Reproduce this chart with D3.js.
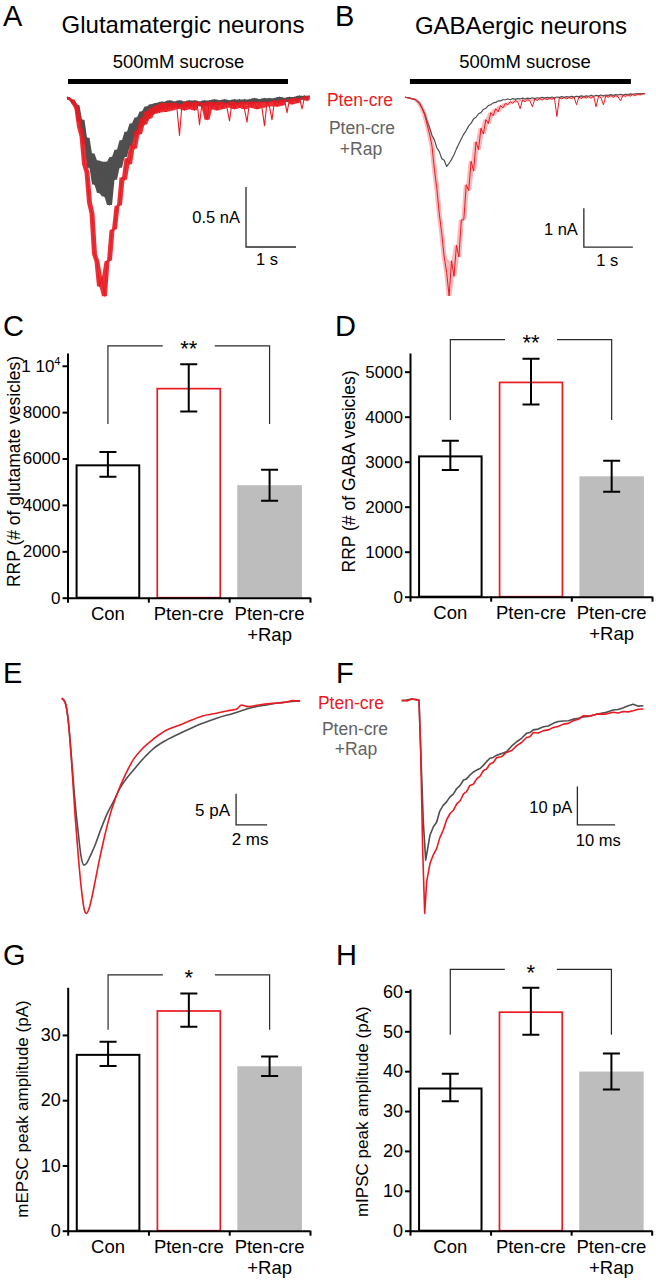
<!DOCTYPE html>
<html><head><meta charset="utf-8">
<script src="https://cdn.jsdelivr.net/npm/d3@7"></script>
<style>
html,body{margin:0;padding:0;background:#fff;}
svg{display:block;font-family:"Liberation Sans",Arial,Helvetica,sans-serif;}
</style></head><body>
<svg id="fig" width="656" height="1280"></svg>
<script>
// ---------------- DATA ----------------
const groups = ["Con", "Pten-cre", "Pten-cre +Rap"];
const groupLines = [["Con"], ["Pten-cre"], ["Pten-cre", "+Rap"]];

// C: RRP glutamate vesicles
const rrpGlutMean = [5750, 9050, 4850];
const rrpGlutSem = [530, 1020, 670];
const rrpGlutTicks = [0, 2000, 4000, 6000, 8000, 10000];
// D: RRP GABA vesicles
const rrpGabaMean = [3140, 4780, 2675];
const rrpGabaSem = [325, 510, 345];
const rrpGabaTicks = [0, 1000, 2000, 3000, 4000, 5000];
// G: mEPSC amplitude
const mepscMean = [27.1, 33.8, 25.2];
const mepscSem = [1.85, 2.55, 1.5];
const mepscTicks = [0, 10, 20, 30];
// H: mIPSC amplitude
const mipscMean = [35.9, 55.0, 39.9];
const mipscSem = [3.45, 5.9, 4.5];
const mipscTicks = [0, 10, 20, 30, 40, 50, 60];

// A: sucrose responses, glutamatergic (nA, sampled every 0.05 s)
const dtA = 0.05;
const redA = [0.00,-0.02,-0.02,-0.06,-0.10,-0.25,-0.33,-0.56,-0.63,-0.88,
 -0.97,-1.31,-1.37,-1.58,-1.50,-1.66,-1.37,-1.36,-1.11,-1.10,
 -0.91,-0.90,-0.67,-0.69,-0.51,-0.56,-0.40,-0.43,-0.28,-0.31,
 -0.18,-0.23,-0.12,-0.18,-0.09,-0.14,-0.07,-0.13,-0.05,-0.12,
 -0.12,-0.05,-0.11,-0.05,-0.10,-0.32,-0.06,-0.11,-0.04,-0.10,
 -0.05,-0.11,-0.04,-0.23,-0.05,-0.10,-0.19,-0.04,-0.10,-0.05,
 -0.11,-0.04,-0.10,-0.05,-0.09,-0.20,-0.04,-0.10,-0.05,-0.09,
 -0.04,-0.10,-0.21,-0.04,-0.09,-0.04,-0.10,-0.04,-0.09,-0.24,
 -0.04,-0.08,-0.19,-0.03,-0.08,-0.03,-0.07,-0.02,-0.13,-0.02,
 -0.06,-0.01,-0.05,-0.01,-0.10,0.00,-0.03,0.01];
const grayA = [0.00,-0.02,-0.03,-0.06,-0.07,-0.20,-0.19,-0.39,-0.34,-0.59,
 -0.47,-0.73,-0.53,-0.80,-0.54,-0.83,-0.54,-0.90,-0.50,-0.69,
 -0.44,-0.59,-0.36,-0.50,-0.29,-0.41,-0.22,-0.33,-0.17,-0.26,
 -0.12,-0.20,-0.08,-0.15,-0.06,-0.13,-0.05,-0.11,-0.04,-0.10,
 -0.09,-0.03,-0.08,-0.04,-0.09,-0.03,-0.08,-0.04,-0.08,-0.03,
 -0.08,-0.03,-0.07,-0.04,-0.08,-0.03,-0.07,-0.03,-0.07,-0.02,
 -0.07,-0.03,-0.06,-0.02,-0.06,-0.03,-0.07,-0.02,-0.06,-0.02,
 -0.06,-0.02,-0.05,-0.02,-0.06,-0.01,-0.05,-0.02,-0.05,-0.01,
 -0.05,-0.01,-0.04,-0.01,-0.05,0.00,-0.04,-0.01,-0.04,0.00,
 -0.03,0.00,-0.03,0.01,-0.02,0.01,-0.02,0.01];
const sucroseA = [0.02, 4.42];

// B: sucrose responses, GABAergic (nA, every 0.05 s)
const dtB = 0.05;
const redB = [0.00,-0.02,-0.03,-0.06,-0.05,-0.10,-0.18,-0.30,-0.45,-0.70,
 -0.95,-1.25,-1.85,-2.35,-3.00,-3.50,-4.10,-4.50,-5.10,-4.20,
 -4.60,-3.80,-4.10,-3.15,-3.15,-2.25,-2.40,-1.65,-1.90,-1.15,
 -1.35,-0.80,-0.95,-0.58,-0.68,-0.40,-0.48,-0.30,-0.38,-0.22,
 -0.28,-0.16,-0.20,-0.12,-0.16,-0.09,-0.12,-0.30,-0.07,-0.12,
 -0.06,-0.10,-0.25,-0.05,-0.09,-0.04,-0.08,-0.03,-0.07,-0.03,
 -0.06,-0.02,-0.50,-0.02,-0.05,-0.01,-0.05,-0.01,-0.04,0.00,
 -0.20,0.00,-0.04,0.01,-0.03,0.01,-0.03,0.02,-0.25,0.02,
 -0.02,-0.20,0.03,-0.01,0.04,-0.01,0.04,0.00,-0.10,0.05,
 0.01,0.06,0.02,0.07,0.03,0.08,0.05,0.09,0.08];
const grayB = [0.00,-0.02,-0.02,-0.05,-0.06,-0.11,-0.16,-0.28,-0.42,-0.62,
 -0.78,-0.98,-1.10,-1.30,-1.40,-1.58,-1.62,-1.78,-1.70,-1.60,
 -1.48,-1.33,-1.20,-1.07,-0.95,-0.86,-0.74,-0.67,-0.56,-0.52,
 -0.43,-0.40,-0.32,-0.29,-0.22,-0.20,-0.15,-0.14,-0.10,-0.10,
 -0.07,-0.07,-0.05,-0.07,-0.04,-0.06,-0.04,-0.05,-0.03,-0.05,
 -0.03,-0.04,-0.02,-0.04,-0.02,-0.03,-0.01,-0.03,-0.01,-0.02,
 0.00,-0.02,0.00,-0.01,0.01,-0.01,0.01,0.00,0.02,0.00,
 0.02,0.01,0.03,0.01,0.03,0.02,0.04,0.02,0.04,0.03,
 0.05,0.03,0.05,0.04,0.06,0.04,0.06,0.05,0.07,0.05,
 0.07,0.06,0.08,0.07,0.08,0.08,0.09,0.08,0.09];
const sucroseB = [0.10, 4.61];

// E: averaged mEPSCs (ms, pA)
const eRedT = [0,0.22,0.43,0.65,0.86,1.08,1.29,1.46,1.59,1.74,1.93,2.15,2.41,2.69,3.12,3.55,4.09,4.62,5.27,5.92,6.78,7.63,8.39,9.14,9.79,10.65,11.3,11.6,12.0,12.5,13.0,13.7,14.3,14.95,15.38];
const eRedI = [0,-0.65,-3.76,-10.75,-18.8,-25.8,-31.2,-34.1,-34.7,-34.1,-32.3,-29.6,-26.3,-23.1,-18.8,-15.6,-12.4,-9.9,-7.96,-6.56,-5.1,-4.3,-3.5,-2.8,-2.5,-2.04,-1.72,-1.07,-1.34,-1.18,-0.97,-0.8,-0.7,-0.38,-0.43];
const eGrayT = [0,0.22,0.43,0.65,0.86,1.08,1.25,1.44,1.61,1.83,2.15,2.47,2.9,3.33,3.76,4.19,4.62,5.27,5.92,6.78,7.85,8.92,10.0,11.1,12.1,13.2,14.3,15.38];
const eGrayI = [0,-0.65,-3.76,-10.2,-16.7,-22.0,-25.5,-26.9,-26.6,-25.5,-23.7,-21.5,-18.8,-16.7,-14.5,-12.9,-11.6,-9.7,-8.1,-6.7,-5.4,-4.2,-3.2,-2.4,-1.6,-1.07,-0.65,-0.43];

// F: averaged mIPSCs (ms, pA)
const fRedT = [0,1.33,2.66,4.15,4.59,5.03,5.56,6.09,6.62,7.5,8.4,9.27,10.1,11.0,11.9,12.8,13.7,14.6,15.5,16.4,17.2,18.1,19.0,19.9,20.8,21.7,22.5,23.4,24.3,25.2,26.5,27.8,29.2,30.5,31.8,33.1,34.0,34.9,36.2,37.6,38.9,40.2,41.5,42.9,44.2,45.5,46.9,48.2,50.0,51.7,53.9,56.1,57.4,58.8,60.1,61.4,62.8,64.1];
const fRedI = [0,-0.26,0.26,0.09,-0.09,-12.8,-38.9,-55.7,-47.5,-42.7,-40.4,-38.8,-36.0,-34.0,-31.3,-29.7,-28.8,-27.1,-26.3,-24.5,-23.9,-22.3,-22.0,-20.6,-19.9,-18.4,-18.0,-16.7,-16.3,-15.0,-14.8,-13.7,-13.2,-11.9,-11.1,-9.8,-9.6,-8.5,-8.6,-8.0,-7.8,-7.2,-6.9,-6.3,-6.1,-5.4,-5.0,-4.1,-4.2,-3.7,-3.7,-3.2,-3.4,-3.0,-3.1,-2.8,-2.4,-2.35];
const fGrayT = [0,1.33,2.66,4.15,4.59,5.03,5.74,6.36,6.89,7.5,8.4,9.27,10.1,11.0,11.9,12.8,13.7,14.6,15.5,16.4,17.2,18.1,19.0,19.9,20.8,21.7,22.5,23.4,24.3,25.2,26.5,27.8,29.2,30.5,31.8,33.1,34.0,34.9,36.2,37.6,38.9,40.2,41.5,42.9,44.2,45.5,46.9,48.2,50.0,51.7,53.9,56.1,57.4,58.8,60.1,61.4,62.8,64.1];
const fGrayI = [-0.26,0,0.26,0,-0.09,-12.8,-31.9,-41.8,-38.8,-35.3,-33.1,-31.9,-29.0,-27.5,-26.6,-25.3,-24.6,-23.1,-22.3,-20.9,-20.6,-19.6,-18.8,-18.3,-17.9,-17.0,-16.1,-15.2,-15.0,-14.4,-14.0,-13.5,-12.0,-10.9,-10.0,-8.7,-8.5,-7.8,-7.6,-7.0,-6.8,-6.1,-5.6,-5.5,-5.4,-5.0,-4.8,-4.4,-4.2,-3.7,-3.3,-2.6,-2.5,-2.0,-1.5,-1.1,-1.6,-1.5];

// ---------------- DRAWING ----------------
const svg = d3.select("#fig");
const RED = "#ea1a22";
const TRACE_GRAY = "#4f4f4f";
const LEG_GRAY = "#626262";
const BAR_GRAY = "#bdbdbd";
const LINE = "#2a2a2a";

function text(x, y, s, size, anchor, fill) {
  return svg.append("text").attr("x", x).attr("y", y).attr("font-size", size)
    .attr("text-anchor", anchor || "start").attr("fill", fill || "#000").text(s);
}

// panel letters
[["A",3,26],["B",335,26],["C",3,336],["D",335,336],["E",3,683],["F",336,683],["G",3,965],["H",336,965]]
  .forEach(([l,x,y]) => text(x, y, l, 29));

// titles
text(183, 33, "Glutamatergic neurons", 24, "middle");
text(521, 34, "GABAergic neurons", 24, "middle");
text(178.5, 68, "500mM sucrose", 18.5, "middle");
text(525, 68, "500mM sucrose", 18.5, "middle");

// legends
text(360, 106, "Pten-cre", 17.5, "middle", RED);
text(362, 134, "Pten-cre", 17.5, "middle", LEG_GRAY);
text(361, 155, "+Rap", 17.5, "middle", LEG_GRAY);
text(351, 709, "Pten-cre", 17.5, "middle", RED);
text(355, 735, "Pten-cre", 17.5, "middle", LEG_GRAY);
text(356, 755, "+Rap", 17.5, "middle", LEG_GRAY);

function tracePanel(cfg) {
  const x = d3.scaleLinear().domain([0, 1]).range([cfg.x0, cfg.x0 + cfg.pxX]);
  const y = d3.scaleLinear().domain([0, -1]).range([cfg.y0, cfg.y0 + cfg.pxY]);
  const line = d3.line().x(d => x(d[0])).y(d => y(d[1]));
  cfg.series.forEach(s => {
    const pts = s.t ? s.t.map((t, i) => [t, s.v[i]]) : s.v.map((v, i) => [i * s.dt, v]);
    if (s.band) {
      // noise envelope of the recorded trace (min/max of neighbouring samples);
      // isolated event spikes near baseline are left out so they stay thin lines
      const isSpike = i => i > 0 && i < s.v.length - 1 &&
        Math.min(s.v[i - 1], s.v[i + 1]) > -0.15 &&
        s.v[i] < Math.min(s.v[i - 1], s.v[i + 1]) - 0.09;
      const env = pts.map((p, i) => {
        const nb = [];
        for (let k = Math.max(0, i - 1); k <= Math.min(s.v.length - 1, i + 1); k++) if (!isSpike(k)) nb.push(s.v[k]);
        return [p[0], d3.min(nb), d3.max(nb)];
      });
      svg.append("path").datum(env)
        .attr("d", d3.area().x(d => x(d[0])).y0(d => y(d[1])).y1(d => y(d[2])))
        .attr("fill", s.color).attr("opacity", s.band);
    }
    svg.append("path").datum(pts)
      .attr("d", line.curve(s.curve || d3.curveLinear))
      .attr("fill", "none").attr("stroke", s.color).attr("stroke-width", s.w)
      .attr("stroke-linejoin", "round");
  });
  if (cfg.sucrose) {
    svg.append("rect").attr("x", x(cfg.sucrose[0])).attr("y", 79)
      .attr("width", x(cfg.sucrose[1]) - x(cfg.sucrose[0])).attr("height", 5).attr("fill", "#000");
  }
  const sb = cfg.scale;
  const cx = x(sb.t), cy = y(sb.i), top = y(sb.i + sb.di), right = x(sb.t + sb.dt);
  svg.append("path").attr("d", `M${cx},${top}V${cy}H${right}`)
    .attr("fill", "none").attr("stroke", LINE).attr("stroke-width", 1.3);
  text(cx + sb.vlx, (top + cy) / 2 + sb.vly, sb.vLabel, sb.fs, "end");
  text((cx + right) / 2 + sb.hlx, cy + sb.hly, sb.hLabel, sb.fs, "middle");
}

tracePanel({
  x0: 67, pxX: 50, y0: 97, pxY: 120, sucrose: sucroseA,
  series: [
    {v: grayA, dt: dtA, color: TRACE_GRAY, w: 1.1, band: 1},
    {v: redA, dt: dtA, color: RED, w: 1.1, band: 0.9}
  ],
  scale: {t: 3.58, i: -1.25, dt: 1, di: 0.5, vLabel: "0.5 nA", hLabel: "1 s", fs: 16.5, vlx: -6, vly: 5.5, hlx: -4, hly: 18}
});
tracePanel({
  x0: 405, pxX: 49, y0: 97, pxY: 39, sucrose: sucroseB,
  series: [
    {v: grayB, dt: dtB, color: TRACE_GRAY, w: 1.2},
    {v: redB, dt: dtB, color: RED, w: 1, band: 0.3}
  ],
  scale: {t: 3.65, i: -3.85, dt: 1, di: 1, vLabel: "1 nA", hLabel: "1 s", fs: 16.5, vlx: -6, vly: 7.5, hlx: -1, hly: 18.5}
});
tracePanel({
  x0: 61.7, pxX: 15.5, y0: 698.3, pxY: 6.2,
  series: [
    {t: eGrayT, v: eGrayI, color: TRACE_GRAY, w: 1.6, curve: d3.curveMonotoneX},
    {t: eRedT, v: eRedI, color: RED, w: 1.6, curve: d3.curveMonotoneX}
  ],
  scale: {t: 11.25, i: -20.4, dt: 2, di: 5, vLabel: "5 pA", hLabel: "2 ms", fs: 17, vlx: -6, vly: 7, hlx: -1.5, hly: 20}
});
tracePanel({
  x0: 401.7, pxX: 3.77, y0: 700, pxY: 3.83,
  series: [
    {t: fGrayT, v: fGrayI, color: TRACE_GRAY, w: 1.6},
    {t: fRedT, v: fRedI, color: RED, w: 1.6}
  ],
  scale: {t: 46.6, i: -32.6, dt: 10, di: 10, vLabel: "10 pA", hLabel: "10 ms", fs: 16.5, vlx: -5, vly: 7, hlx: 2, hly: 21}
});

function barPanel(cfg) {
  const x = d3.scaleBand().domain(groups).range([cfg.x0, cfg.x1]).paddingInner(0.2).paddingOuter(0.1);
  const y = d3.scaleLinear().domain([0, cfg.yMax]).range([cfg.yBase, cfg.yTop]);
  const styles = [
    {fill: "#fff", stroke: "#000", sw: 2},
    {fill: "#fff", stroke: RED, sw: 1.7},
    {fill: BAR_GRAY, stroke: "none", sw: 0}
  ];
  groups.forEach((g, i) => {
    const st = styles[i];
    const inset = st.sw / 2;
    svg.append("rect")
      .attr("x", x(g) + inset).attr("width", x.bandwidth() - 2 * inset)
      .attr("y", y(cfg.mean[i]) + inset).attr("height", y(0) - y(cfg.mean[i]) - inset)
      .attr("fill", st.fill).attr("stroke", st.stroke).attr("stroke-width", st.sw);
  });
  groups.forEach((g, i) => {
    const cx = x(g) + x.bandwidth() / 2;
    const lo = y(cfg.mean[i] - cfg.sem[i]), hi = y(cfg.mean[i] + cfg.sem[i]);
    svg.append("path").attr("d", `M${cx},${lo}V${hi}M${cx - 8.5},${hi}H${cx + 8.5}M${cx - 8.5},${lo}H${cx + 8.5}`)
      .attr("stroke", "#000").attr("stroke-width", 2).attr("fill", "none");
  });
  const ya = svg.append("g").attr("transform", `translate(${cfg.x0},0)`)
    .call(d3.axisLeft(y).tickValues(cfg.ticks).tickSize(5).tickPadding(2).tickSizeOuter(0).tickFormat(d3.format("d")));
  ya.attr("font-size", cfg.tickFs).attr("font-family", null);
  ya.selectAll("path,line").attr("stroke-width", 2);
  if (cfg.sciTop) {
    ya.selectAll(".tick text").filter(d => d === cfg.sciTop).each(function() {
      const t = d3.select(this).text("1 10");
      t.append("tspan").attr("dy", -7).attr("font-size", cfg.tickFs * 0.65).text("4");
    });
  }
  const xb = d3.scaleLinear().domain([0, 3]).range([cfg.x0, cfg.x1]);
  const xa = svg.append("g").attr("transform", `translate(0,${cfg.yBase})`)
    .call(d3.axisBottom(xb).tickValues([0, 1, 2, 3]).tickFormat("").tickSize(5).tickSizeOuter(0));
  xa.selectAll("path,line").attr("stroke-width", 2);
  groups.forEach((g, i) => {
    const cx = x(g) + x.bandwidth() / 2;
    groupLines[i].forEach((ln, j) => text(cx, cfg.yBase + 22.5 + j * 20.5, ln, 18.5, "middle"));
  });
  svg.append("text").attr("transform", `translate(${cfg.ylx},${cfg.yly}) rotate(-90)`)
    .attr("text-anchor", "middle").attr("dy", "0.35em").attr("font-size", cfg.ylFs).text(cfg.yLabel);
  const c0 = x(groups[0]) + x.bandwidth() / 2, c2 = x(groups[2]) + x.bandwidth() / 2;
  const c1 = x(groups[1]) + x.bandwidth() / 2;
  const bt = y(cfg.bracket[0]), bb = y(cfg.bracket[1]);
  svg.append("path").attr("d", `M${c0},${bb}V${bt}H${c1 - 26}M${c1 + 26},${bt}H${c2}V${bb}`)
    .attr("fill", "none").attr("stroke", LINE).attr("stroke-width", 1.2);
  text(c1, bt + 10.5, cfg.stars, 22, "middle");
}

barPanel({
  x0: 67.5, x1: 310, yBase: 597.7, yTop: 353, yMax: 10550,
  mean: rrpGlutMean, sem: rrpGlutSem, ticks: rrpGlutTicks, tickFs: 17, sciTop: 10000,
  yLabel: "RRP (# of glutamate vesicles)", ylx: 13.5, yly: 471.5, ylFs: 17.5,
  bracket: [10860, 7490], stars: "**"
});
barPanel({
  x0: 410, x1: 652, yBase: 596.7, yTop: 353, yMax: 5415,
  mean: rrpGabaMean, sem: rrpGabaSem, ticks: rrpGabaTicks, tickFs: 17,
  yLabel: "RRP (# of GABA vesicles)", ylx: 348.5, yly: 471.5, ylFs: 17.5,
  bracket: [5711, 3927], stars: "**"
});
barPanel({
  x0: 67.7, x1: 310, yBase: 1230.7, yTop: 987.3, yMax: 37.3,
  mean: mepscMean, sem: mepscSem, ticks: mepscTicks, tickFs: 18,
  yLabel: "mEPSC peak amplitude (pA)", ylx: 21.7, yly: 1109, ylFs: 17,
  bracket: [39.2, 30.8], stars: "*"
});
barPanel({
  x0: 410, x1: 651.7, yBase: 1230.7, yTop: 989, yMax: 60.6,
  mean: mipscMean, sem: mipscSem, ticks: mipscTicks, tickFs: 18,
  yLabel: "mIPSC peak amplitude (pA)", ylx: 361.7, yly: 1111.7, ylFs: 17,
  bracket: [65.5, 49.1], stars: "*"
});
</script>
</body></html>
